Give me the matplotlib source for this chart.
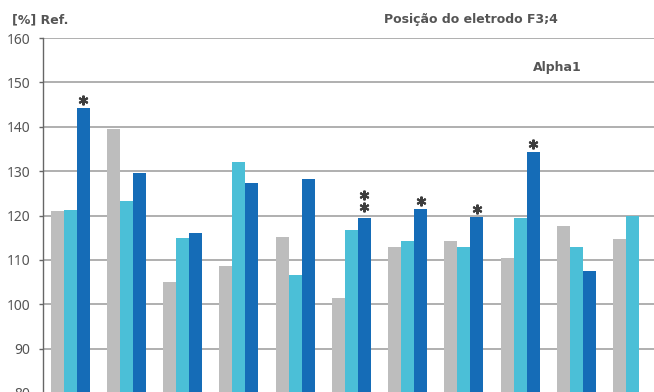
import numpy as np
import matplotlib
matplotlib.use('Agg')
import matplotlib.pyplot as plt
from matplotlib.transforms import offset_copy

plt.rcParams['font.family'] = ['Noto Sans', 'DejaVu Sans']

# values (% of reference)
grey_vals = [121.0, 139.6, 105.0, 108.6, 115.2, 101.3, 113.0, 114.2, 110.5, 117.6, 114.8]
cyan_vals = [121.3, 123.2, 115.0, 132.0, 106.7, 116.8, 114.2, 113.0, 119.5, 113.0, 119.8]
dark_vals = [144.3, 129.5, 116.0, 127.4, 128.3, 119.5, 121.5, 119.6, 134.2, 107.5, np.nan]
dark_stars = [1, 0, 0, 0, 0, 2, 1, 1, 1, 0, 0]
yticks = [80, 90, 100, 110, 120, 130, 140, 150, 160]

W, H = 654, 392
fig = plt.figure(figsize=(W / 100, H / 100), dpi=100)
ax = fig.add_axes([43 / W, -1 / H, 1 - 43 / W, (H - 38 + 1) / H])

x = np.arange(len(grey_vals))
bw = 0.231
ax.bar(x - bw, grey_vals, bw, color='#bdbdbd', zorder=2)
ax.bar(x, cyan_vals, bw, color='#4bbfd7', zorder=2)
ax.bar(x + bw, dark_vals, bw, color='#156cb7', zorder=2)

# significance asterisks above the dark bars
for i, n in enumerate(dark_stars):
    for k in range(n):
        dy = 8 if n == 1 else 11 + 12 * k
        tr = offset_copy(ax.transData, fig=fig, y=dy, units='dots')
        ax.plot(x[i] + bw, dark_vals[i], marker=(6, 2, 0), markersize=7,
                markeredgewidth=1.5, color='#3d3d3d', transform=tr,
                clip_on=False, zorder=3)

ax.set_ylim(80, 160)
ax.set_xlim(-0.48, 10.38)
ax.set_yticks(yticks)
ax.set_xticks([])
ax.yaxis.grid(True, color='#9a9a9a', linewidth=1.1, zorder=0)
ax.set_axisbelow(True)
for s in ['top', 'right', 'bottom']:
    ax.spines[s].set_visible(False)
ax.spines['left'].set_color('#666666')
ax.spines['left'].set_linewidth(1.0)
ax.tick_params(axis='y', length=3, width=1, color='#666666', pad=6,
               labelsize=10, labelcolor='#555555')

bold = dict(family='DejaVu Sans', fontsize=9, fontweight='bold', color='#555555', va='center')
fig.text(12 / W, 1 - 20 / H, '[%] Ref.', ha='left', **bold)
fig.text(471 / W, 1 - 19 / H, 'Posição do eletrodo F3;4', ha='center', **bold)
fig.text(557 / W, 1 - 67 / H, 'Alpha1', ha='center', **bold)

fig.savefig('out.png', dpi=100)
